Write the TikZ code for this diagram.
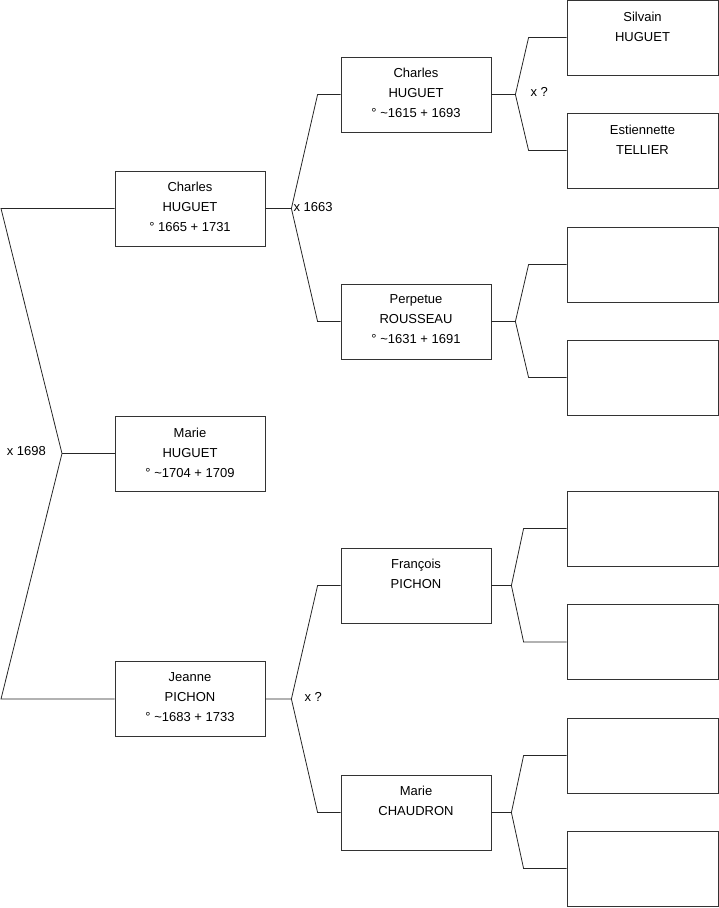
\documentclass[tikz,border=0pt]{standalone}
\usepackage{fontspec}
\setmainfont{Liberation Sans}

\begin{document}
\begin{tikzpicture}[
  x=1pt, y=-1pt,
  person/.style={
    draw=black!80, line width=0.8pt, fill=white,
    minimum width=150pt, minimum height=75pt, inner sep=0pt
  },
  pname/.style={
    anchor=north, inner sep=0pt, align=center,
    font=\fontsize{13}{20}\selectfont
  },
  link/.style={
    draw=black!85, line width=0.8pt, line join=miter
  },
  wed/.style={
    inner sep=0pt, font=\fontsize{13}{16}\selectfont
  }
]

\useasboundingbox (0,0) rectangle (719,908);

% Generation 1
\node[person] (father) at (190,208.5) {};
\node[pname] at ([yshift=-11pt]father.north) {Charles\\HUGUET\\° 1665 + 1731};

\node[person] (child) at (190,453.5) {};
\node[pname] at ([yshift=-12pt]child.north) {Marie\\HUGUET\\° \textasciitilde 1704 + 1709};

\node[person] (mother) at (190,699) {};
\node[pname] at ([yshift=-11pt]mother.north) {Jeanne\\PICHON\\° \textasciitilde 1683 + 1733};

% Generation 2
\node[person] (ff) at (416,94.5) {};
\node[pname] at ([yshift=-11pt]ff.north) {Charles\\HUGUET\\° \textasciitilde 1615 + 1693};

\node[person] (fm) at (416,321.5) {};
\node[pname] at ([yshift=-11pt]fm.north) {Perpetue\\ROUSSEAU\\° \textasciitilde 1631 + 1691};

\node[person] (mf) at (416,585.5) {};
\node[pname] at ([yshift=-11pt]mf.north) {François\\PICHON};

\node[person] (mm) at (416,812.5) {};
\node[pname] at ([yshift=-11pt]mm.north) {Marie\\CHAUDRON};

% Generation 3
\node[person, minimum width=151pt] (fff) at (642.5,37.5) {};
\node[pname] at ([yshift=-12pt]fff.north) {Silvain\\HUGUET};

\node[person, minimum width=151pt] (ffm) at (642.5,150.5) {};
\node[pname] at ([yshift=-12pt]ffm.north) {Estiennette\\TELLIER};

\node[person, minimum width=151pt] (fmf) at (642.5,264.5) {};
\node[person, minimum width=151pt] (fmm) at (642.5,377.5) {};
\node[person, minimum width=151pt] (mff) at (642.5,528.5) {};
\node[person, minimum width=151pt] (mfm) at (642.5,642) {};
\node[person, minimum width=151pt] (mmf) at (642.5,755.5) {};
\node[person, minimum width=151pt] (mmm) at (642.5,868.5) {};

% Unions
\coordinate (u0) at (62,453.5);
\coordinate (u0a) at (1,208.5);
\coordinate (u0b) at (1,699);
\draw[link] (father.west) -- (u0a) -- (u0) -- (u0b) -- (mother.west);
\draw[link] (u0) -- (child.west);
\node[wed, anchor=east] (w0) at ([xshift=-16pt,yshift=2.5pt]u0) {x 1698};

\coordinate (u1) at ([xshift=26pt]father.east);
\draw[link] (father.east) -- (u1) -- ([xshift=-23pt]ff.west) -- (ff.west);
\draw[link] (u1) -- ([xshift=-23pt]fm.west) -- (fm.west);
\node[wed, anchor=west] (w1) at ([xshift=2pt,yshift=1.5pt]u1) {x 1663};

\coordinate (u2) at ([xshift=26pt]mother.east);
\draw[link] (mother.east) -- (u2) -- ([xshift=-23pt]mf.west) -- (mf.west);
\draw[link] (u2) -- ([xshift=-23pt]mm.west) -- (mm.west);
\node[wed, anchor=west] (w2) at ([xshift=13pt,yshift=2pt]u2) {x ?};

\coordinate (u3) at ([xshift=24pt]ff.east);
\draw[link] (ff.east) -- (u3) -- ([xshift=-38pt]fff.west) -- (fff.west);
\draw[link] (u3) -- ([xshift=-38pt]ffm.west) -- (ffm.west);
\node[wed, anchor=west] (w3) at ([xshift=15pt,yshift=2.5pt]u3) {x ?};

\coordinate (u4) at ([xshift=24pt]fm.east);
\draw[link] (fm.east) -- (u4) -- ([xshift=-38pt]fmf.west) -- (fmf.west);
\draw[link] (u4) -- ([xshift=-38pt]fmm.west) -- (fmm.west);

\coordinate (u5) at ([xshift=20pt]mf.east);
\draw[link] (mf.east) -- (u5) -- ([xshift=-43pt]mff.west) -- (mff.west);
\draw[link] (u5) -- ([xshift=-43pt]mfm.west) -- (mfm.west);

\coordinate (u6) at ([xshift=20pt]mm.east);
\draw[link] (mm.east) -- (u6) -- ([xshift=-43pt]mmf.west) -- (mmf.west);
\draw[link] (u6) -- ([xshift=-43pt]mmm.west) -- (mmm.west);

\end{tikzpicture}
\end{document}
